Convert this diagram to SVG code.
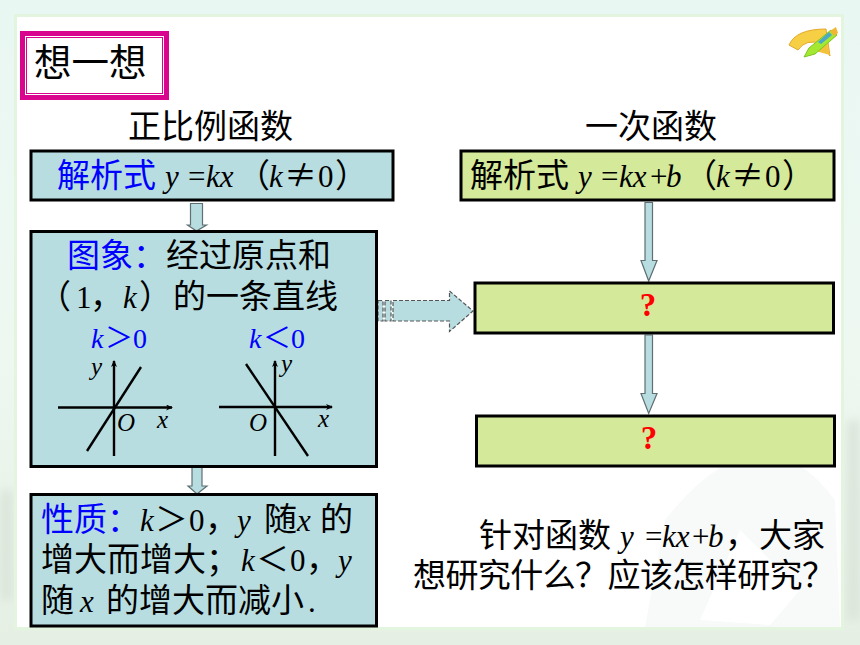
<svg xmlns="http://www.w3.org/2000/svg" width="860" height="645" viewBox="0 0 860 645">
<style>
text{font-family:"Noto Sans CJK SC","Liberation Sans",sans-serif;font-size:33px;fill:#000}
.m{font-family:"Liberation Serif","Noto Sans CJK SC",serif;font-style:italic;font-size:31px}
.r{font-family:"Liberation Serif","Noto Sans CJK SC",serif;font-size:31px}
.c{font-family:"Noto Sans CJK SC",sans-serif;font-size:33px}
.k{font-size:28px}
.b{fill:#0000ff}
.blue{fill:#b7dde1;stroke:#000;stroke-width:3}
.green{fill:#d4e999;stroke:#000;stroke-width:3}
.ar{fill:#b7dde1;stroke:#5f6f72;stroke-width:1.2}
.dash{fill:#b7dde1;stroke:#555;stroke-width:1.2;stroke-dasharray:4 2}
.ax{stroke:#000;stroke-width:2.400;fill:none}
.q{font-family:"Liberation Serif",serif;font-size:33px;font-weight:bold;fill:#f00;text-anchor:middle}
text.small{font-size:25px}
</style>
<defs>
<marker id="tip" markerWidth="9" markerHeight="8" refX="6" refY="3" orient="auto" markerUnits="userSpaceOnUse"><path d="M0 0L7 3L0 6L2 3Z" fill="#000"/></marker>
<linearGradient id="bg" x1="0" y1="0" x2="0" y2="1"><stop offset="0" stop-color="#e9f7f3"/><stop offset=".55" stop-color="#eef8f1"/><stop offset="1" stop-color="#e6efe3"/></linearGradient>
<filter id="soft" x="-30%" y="-30%" width="160%" height="160%"><feGaussianBlur stdDeviation="5"/></filter>
</defs>
<rect width="860" height="645" fill="url(#bg)"/>
<g filter="url(#soft)" fill="#dbe5da">
<rect x="0" y="490" width="13" height="110"/>
<rect x="847" y="420" width="13" height="200"/>
</g>
<rect x="15.500" y="15.500" width="827" height="613" fill="#fff" stroke="#e3f5df" stroke-width="3"/>
<path d="M645 627L665 520Q760 400 835 500L840 627Z" fill="#f7faf9"/>
<path d="M700 620L740 530L800 590L770 625Z" fill="#fff"/>

<g id="icon">
<path d="M789 45Q796 29 826 29L830 56L822 44Q806 38 798 50Z" fill="#f6cf45" stroke="#e3a92a" stroke-width="1"/>
<path d="M824 38L830 55L812 50Z" fill="#f3c13a"/>
<path d="M804 57L809 48L831 30L837 35L815 54Z" fill="#a4e832" stroke="#7cc51f" stroke-width="1"/>
<path d="M818 42L829 32L832 35L821 44Z" fill="#4aa8c8"/>
<path d="M830 31L836 27L838 33L834 36Z" fill="#f0b733"/>
</g>

<g id="title">
<rect x="22.500" y="33.500" width="144" height="64" fill="#fff" stroke="#d9058e" stroke-width="5"/>
<rect x="26.500" y="37.500" width="136" height="56" fill="none" stroke="#d9058e" stroke-width="1"/>
<text x="34" y="76" style="font-size:37.500px">想一想</text>
</g>

<g id="heading-left"><text x="128" y="138">正比例函数</text></g>
<g id="heading-right"><text x="585" y="138">一次函数</text></g>

<g id="connectors">
<path class="ar" d="M190.500 203.500H202.500V225H206.500L196.500 231L187.500 225H190.500Z"/>
<path class="ar" d="M192 467H202V486H207L197 494L188 486H192Z"/>
<path class="ar" d="M645 202.500H652.500V260.500H657L648.700 281L641 260.500H645Z"/>
<path class="ar" d="M645 335H652.500V393.500H657L648.700 413.500L641 393.500H645Z"/>
<path class="dash" d="M378 300.500H383V321H378Z"/>
<path class="dash" d="M385 300.500H391V321H385Z"/>
<path class="dash" d="M393 300.500H449.500V291L473 311L449.500 331.500V321H393Z"/>
</g>

<g id="formula-left">
<rect class="blue" x="31" y="151" width="362" height="49"/>
<text y="187"><tspan class="b" x="57">解析式</tspan><tspan class="m" x="165">y</tspan><tspan class="r" x="188">=</tspan><tspan class="m" x="206">kx</tspan><tspan x="237">（</tspan><tspan class="m" x="269">k</tspan><tspan class="c" x="284">≠</tspan><tspan class="r" x="318">0</tspan><tspan x="335">）</tspan></text>
</g>

<g id="formula-right">
<rect class="green" x="461" y="151" width="373" height="49"/>
<text y="187"><tspan x="470">解析式</tspan><tspan class="m" x="578">y</tspan><tspan class="r" x="601">=</tspan><tspan class="m" x="619">kx</tspan><tspan class="r" x="650">+</tspan><tspan class="m" x="666">b</tspan><tspan x="684">（</tspan><tspan class="m" x="716">k</tspan><tspan class="c" x="731">≠</tspan><tspan class="r" x="765">0</tspan><tspan x="782">）</tspan></text>
</g>

<g id="graph-node">
<rect class="blue" x="31" y="231.500" width="345.500" height="235"/>
<text y="267"><tspan class="b" x="67">图象：</tspan><tspan x="166">经过原点和</tspan></text>
<text y="308"><tspan x="38">（</tspan><tspan class="r" x="76">1</tspan><tspan x="90">，</tspan><tspan class="m" x="123">k</tspan><tspan x="139">）</tspan><tspan x="173">的一条直线</tspan></text>
<text y="348"><tspan class="m b k" x="91">k</tspan><tspan class="c b k" x="105">＞</tspan><tspan class="r b k" x="133">0</tspan></text>
<text y="348"><tspan class="m b k" x="249">k</tspan><tspan class="c b k" x="263">＜</tspan><tspan class="r b k" x="291">0</tspan></text>
<path class="ax" d="M58 407.500H172" marker-end="url(#tip)"/>
<path class="ax" d="M114 456V361" marker-end="url(#tip)"/>
<path class="ax" d="M87 451L141 367"/>
<path class="ax" d="M219 407H332" marker-end="url(#tip)"/>
<path class="ax" d="M275 456V361" marker-end="url(#tip)"/>
<path class="ax" d="M246 364L308 456"/>
<text class="m small" x="91" y="375">y</text>
<text class="m small" x="281" y="372">y</text>
<text class="m small" x="117" y="431">O</text>
<text class="m small" x="249" y="431">O</text>
<text class="m small" x="157" y="428">x</text>
<text class="m small" x="318" y="427">x</text>
</g>

<g id="q1"><rect class="green" x="475" y="283" width="358.500" height="50"/><text class="q" x="648" y="316">?</text></g>
<g id="q2"><rect class="green" x="476.500" y="416" width="358" height="50"/><text class="q" x="649" y="449">?</text></g>

<g id="property-node">
<rect class="blue" x="31" y="494.500" width="345.500" height="131.500"/>
<text y="531"><tspan class="b" x="41">性质：</tspan><tspan class="m" x="140">k</tspan><tspan class="c" x="155">＞</tspan><tspan class="r" x="189">0</tspan><tspan x="205">，</tspan><tspan class="m" x="237">y</tspan><tspan x="264">随</tspan><tspan class="m" x="297">x</tspan><tspan x="320">的</tspan></text>
<text y="571"><tspan x="41">增大而增大；</tspan><tspan class="m" x="241">k</tspan><tspan class="c" x="256">＜</tspan><tspan class="r" x="290">0</tspan><tspan x="306">，</tspan><tspan class="m" x="338">y</tspan></text>
<text y="612"><tspan x="41">随</tspan><tspan class="m" x="80">x</tspan><tspan x="106">的增大而减小</tspan><tspan class="r" x="308">.</tspan></text>
</g>

<g id="question-text">
<text y="547"><tspan x="479">针对函数</tspan><tspan class="m" x="620">y</tspan><tspan class="r" x="645">=</tspan><tspan class="m" x="662">kx</tspan><tspan class="r" x="692">+</tspan><tspan class="m" x="708">b</tspan><tspan x="725">，</tspan><tspan x="759">大家</tspan></text>
<text x="413" y="587" textLength="422" lengthAdjust="spacing">想研究什么？应该怎样研究？</text>
</g>
</svg>
